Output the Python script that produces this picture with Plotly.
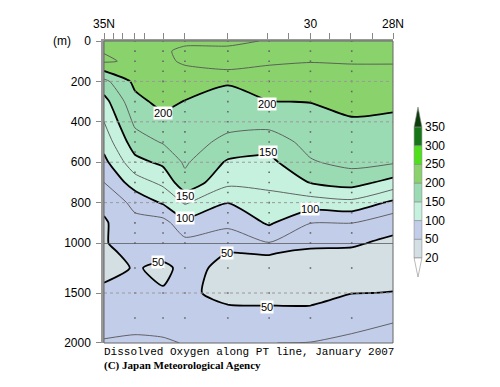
import plotly.graph_objects as go
from plotly.subplots import make_subplots

# section grid: station latitude (deg N) x depth (m)
station_lat = [35.0, 34.25, 33.57, 33.04, 32.0, 31.0, 30.0, 29.0, 28.0]
grid_depth = [0, 50, 100, 150, 200, 300, 400, 500, 600, 700, 800, 900,
              1000, 1100, 1250, 1500, 1750, 2000]

# dissolved oxygen (umol/kg) profiles, one per station, top to bottom
o2_3500 = [222, 224, 228, 199, 168, 141, 125, 110, 93, 75, 56, 47, 48, 44, 40, 57, 65, 77]
o2_3425 = [221, 222, 221, 214, 206, 193, 180, 163.5, 142, 112.5, 82, 68, 62, 57, 52, 60, 71, 77]
o2_3357 = [221, 223, 222, 220, 216, 207, 192, 177, 155.5, 131, 103, 66, 63, 57, 45, 52, 70, 76.5]
o2_3304 = [222, 228, 227, 222, 214, 199, 192, 185, 178.5, 167, 128, 92, 68, 60, 56, 54, 65, 74.5]
o2_3200 = [222, 228, 227.5, 224.5, 202, 192, 182.3, 169, 146.7, 131, 100.5, 79.4, 64, 49.5, 45, 44, 57, 74]
o2_3100 = [226, 229, 227, 222, 212, 199.5, 183.3, 162.5, 143.4, 130.3, 116.9, 103.5, 74, 51, 44, 47, 53, 74.8]
o2_3000 = [226, 229, 226, 218, 211, 200.5, 191.8, 183, 172.8, 151, 113.5, 75.5, 55, 46, 43, 46, 54, 75.8]
o2_2900 = [226, 229, 227, 220, 214, 206, 198, 188.7, 182, 160, 118.5, 75.5, 53, 46, 43, 49.5, 70, 78]
o2_2800 = [226, 229, 227, 220, 214, 205, 195.6, 186.6, 177.7, 141.4, 94.5, 58, 45, 44, 43, 50.5, 72.5, 85]

profiles = [o2_3500, o2_3425, o2_3357, o2_3304, o2_3200, o2_3100, o2_3000, o2_2900, o2_2800]
o2 = [list(r) for r in zip(*profiles)]

# observation points
sample_lat = [34.25, 33.57, 33.04, 32.0, 31.0, 30.0, 29.0]
sample_depth = [0, 50, 100, 150, 200, 250, 300, 350, 400, 450, 500, 550, 600, 650,
                700, 750, 800, 850, 900, 950, 1000, 1250, 1500, 1750]

# top axis ticks
tick_lat = [35, 34.78, 34.54, 34.25, 34.03, 33.57, 33.04, 32.02, 31.03, 30.52,
            30, 29.53, 29.02, 28.49, 28]
tick_text = ["35N", "", "", "", "", "", "", "", "", "", "30", "", "", "", "28N"]
depth_ticks_top = [0, 200, 400, 600, 800, 1000]
depth_ticks_bottom = [1500, 2000]

# contour labels
label_text = ["200", "200", "150", "150", "100", "100", "50", "50", "50"]
label_lat = [33.57, 31.05, 31.03, 33.04, 33.04, 30.0, 33.69, 32.02, 31.05]
label_depth = [356, 312, 550, 767, 876, 832, 1190, 1100, 1640]

# colour bar
cbar_levels = [20, 50, 100, 150, 200, 250, 300, 350]
band_colors = ["#d3dfe3", "#c2cde9", "#c6f1df", "#9bdbb3", "#8ad26c",
               "#4fe01c", "#167516"]
over_color = "#0b3d0b"
under_color = "#ffffff"

fill_colors = band_colors + [over_color]
fill_scale = [[i / (len(fill_colors) - 1), c] for i, c in enumerate(fill_colors)]

fig = make_subplots(rows=2, cols=1, shared_xaxes=True, vertical_spacing=0,
                    row_heights=[0.669, 0.331])

dot_x = [la for la in sample_lat for d in sample_depth]
dot_y = [d for la in sample_lat for d in sample_depth]

for row in (1, 2):
    fig.add_trace(go.Contour(
        x=station_lat, y=grid_depth, z=o2,
        contours=dict(start=50, end=350, size=50, coloring="fill", showlines=False),
        colorscale=fill_scale, showscale=False, line=dict(width=0),
        hoverinfo="skip"), row=row, col=1)
    fig.add_trace(go.Contour(
        x=station_lat, y=grid_depth, z=o2,
        contours=dict(start=75, end=225, size=50, coloring="none"),
        line=dict(color="#555555", width=0.9, smoothing=0.6),
        showscale=False, hoverinfo="skip"), row=row, col=1)
    fig.add_trace(go.Contour(
        x=station_lat, y=grid_depth, z=o2,
        contours=dict(start=50, end=200, size=50, coloring="none"),
        line=dict(color="black", width=1.8, smoothing=0.6),
        showscale=False, hoverinfo="skip"), row=row, col=1)
    fig.add_trace(go.Scatter(
        x=dot_x, y=dot_y, mode="markers",
        marker=dict(size=1.6, color="#666666", symbol="square"),
        hoverinfo="skip"), row=row, col=1)

axis_font = dict(family="Liberation Sans, Arial, sans-serif", size=12, color="black")

fig.update_xaxes(range=[35, 28], showgrid=False, zeroline=False, automargin=False)
fig.update_xaxes(row=1, col=1, side="top", tickvals=tick_lat, ticktext=tick_text,
                 showticklabels=True, ticks="outside", ticklen=6,
                 tickcolor="#888888", tickwidth=1,
                 showline=True, linecolor="#999999", linewidth=2,
                 tickfont=axis_font, ticklabelstandoff=0)
fig.update_xaxes(row=2, col=1, showticklabels=False, ticks="")

fig.update_yaxes(row=1, col=1, range=[1000, 0], tickvals=depth_ticks_top,
                 ticks="outside", ticklen=5, tickcolor="#888888",
                 showline=True, linecolor="#999999", linewidth=2.5,
                 showgrid=False, zeroline=False, tickfont=axis_font,
                 ticklabelstandoff=3, automargin=False)
fig.update_yaxes(row=2, col=1, range=[2000, 1000], tickvals=depth_ticks_bottom,
                 ticks="outside", ticklen=5, tickcolor="#888888",
                 showline=True, linecolor="#999999", linewidth=2.5,
                 showgrid=False, zeroline=False, tickfont=axis_font,
                 ticklabelstandoff=3, automargin=False)

# dotted depth grid and 1000 m break line
for d in depth_ticks_top[1:-1]:
    fig.add_shape(type="line", xref="paper", x0=0, x1=1, yref="y", y0=d, y1=d,
                  line=dict(color="#9a9a9a", width=1, dash="dot"), layer="above")
for d in depth_ticks_bottom[:-1]:
    fig.add_shape(type="line", xref="paper", x0=0, x1=1, yref="y2", y0=d, y1=d,
                  line=dict(color="#9a9a9a", width=1, dash="dot"), layer="above")
fig.add_shape(type="line", xref="paper", x0=0, x1=1, yref="y2", y0=1000, y1=1000,
              line=dict(color="#555555", width=1.5), layer="above")
fig.add_shape(type="rect", xref="paper", yref="paper", x0=0, x1=1, y0=0, y1=1,
              line=dict(color="#666666", width=1), layer="above")

for t, la, d in zip(label_text, label_lat, label_depth):
    fig.add_annotation(text=t, x=la, y=d, xref="x", yref="y" if d <= 1000 else "y2",
                       showarrow=False, bgcolor="white", borderpad=0,
                       font=dict(family="Liberation Sans, Arial, sans-serif",
                                 size=11, color="black"))

# colour bar drawn as shapes
cb_x0, cb_x1 = 1.073, 1.100
cb_y0, cb_step = 0.2815, 0.062
for i, c in enumerate(band_colors):
    fig.add_shape(type="rect", xref="paper", yref="paper",
                  x0=cb_x0, x1=cb_x1, y0=cb_y0 + i * cb_step, y1=cb_y0 + (i + 1) * cb_step,
                  fillcolor=c, line=dict(color="#8a8a8a", width=0.6))
cb_top = cb_y0 + (len(cbar_levels) - 1) * cb_step
xm = (cb_x0 + cb_x1) / 2
fig.add_shape(type="path", xref="paper", yref="paper",
              path=f"M {cb_x0},{cb_top} L {cb_x1},{cb_top} L {xm},{cb_top + 0.066} Z",
              fillcolor=over_color, line=dict(color="#8a8a8a", width=0.6))
fig.add_shape(type="path", xref="paper", yref="paper",
              path=f"M {cb_x0},{cb_y0} L {cb_x1},{cb_y0} L {xm},{cb_y0 - 0.063} Z",
              fillcolor=under_color, line=dict(color="#8a8a8a", width=0.6))
for i, lv in enumerate(cbar_levels):
    fig.add_annotation(text=str(lv), xref="paper", yref="paper", x=1.104,
                       y=cb_y0 + i * cb_step, xanchor="left", yanchor="middle",
                       showarrow=False, font=axis_font)

fig.add_annotation(text="(m)", xref="paper", yref="paper", x=-0.145, y=1.0,
                   xanchor="center", yanchor="middle", showarrow=False, font=axis_font)
fig.add_annotation(text="Dissolved Oxygen along PT line, January 2007",
                   xref="paper", yref="paper", x=-0.007, y=-0.030,
                   xanchor="left", yanchor="middle", showarrow=False,
                   font=dict(family="Liberation Mono, monospace", size=11, color="black"))
fig.add_annotation(text="<b>(C) Japan Meteorological Agency</b>",
                   xref="paper", yref="paper", x=-0.007, y=-0.076,
                   xanchor="left", yanchor="middle", showarrow=False,
                   font=dict(family="Liberation Serif, serif", size=11, color="black"))

# page body keeps an 8 px margin, so the figure is 8 px smaller each way
fig.update_layout(width=492, height=379, showlegend=False,
                  margin=dict(l=96, r=107, t=33, b=44),
                  paper_bgcolor="white", plot_bgcolor="white")

fig.write_html("out.html")
